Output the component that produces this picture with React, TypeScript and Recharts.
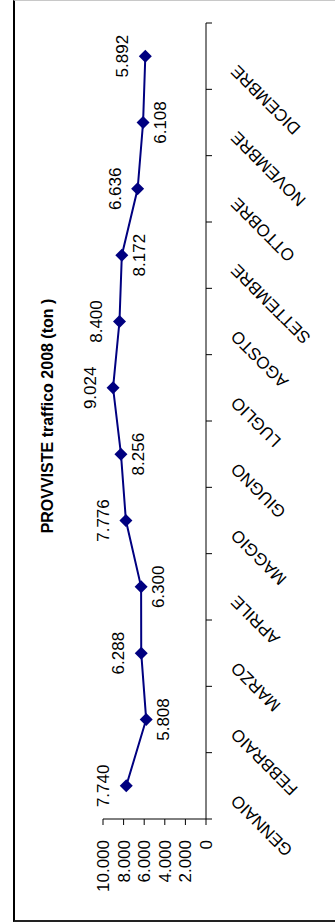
import React from 'react';
import { LineChart, Line, XAxis, YAxis, LabelList } from 'recharts';

const months = [
  'GENNAIO', 'FEBBRAIO', 'MARZO', 'APRILE', 'MAGGIO', 'GIUGNO',
  'LUGLIO', 'AGOSTO', 'SETTEMBRE', 'OTTOBRE', 'NOVEMBRE', 'DICEMBRE',
];
const tonnes = [7740, 5808, 6288, 6300, 7776, 8256, 9024, 8400, 8172, 6636, 6108, 5892];
const valueTicks = [0, 2000, 4000, 6000, 8000, 10000];

// which value labels sit above the point (in the unrotated chart)
const labelAbove = [true, false, true, false, true, false, true, true, false, true, false, true];

// the chart is drawn landscape, then turned 90deg counter-clockwise
const W = 924;
const H = 335;
const PLOT_LEFT = 105;
const PLOT_RIGHT = 901;
const PLOT_TOP = 103;
const PLOT_BOTTOM = 206;
const NAVY = '#000080';
const FONT = '"Liberation Sans", Arial, sans-serif';

const fmt = (v: number) =>
  v >= 1000 ? `${Math.floor(v / 1000)}.${String(v % 1000).padStart(3, '0')}` : String(v);

const data = months.map((month, i) => ({ month, tonnes: tonnes[i] }));

const MonthTick = (props: any) => {
  const { x, payload } = props;
  const idx = months.indexOf(payload.value);
  const step = (PLOT_RIGHT - PLOT_LEFT) / months.length;
  return (
    <g>
      <line x1={x - step / 2} x2={x - step / 2} y1={PLOT_BOTTOM} y2={PLOT_BOTTOM + 6} stroke="#000" />
      {idx === months.length - 1 && (
        <line x1={x + step / 2} x2={x + step / 2} y1={PLOT_BOTTOM} y2={PLOT_BOTTOM + 6} stroke="#000" />
      )}
      <text
        transform={`translate(${x - 8},${PLOT_BOTTOM + 32}) rotate(-45)`}
        textAnchor="end"
        fontSize={17}
        fill="#000"
      >
        {payload.value}
      </text>
    </g>
  );
};

const Diamond = (props: any) => {
  const { cx, cy, index } = props;
  const r = 6.5;
  return (
    <path
      key={`d-${index}`}
      d={`M${cx},${cy - r}L${cx + r},${cy}L${cx},${cy + r}L${cx - r},${cy}Z`}
      fill={NAVY}
    />
  );
};

const ValueLabel = (props: any) => {
  const { x, y, value } = props;
  const idx = props.index ?? tonnes.indexOf(value);
  const above = labelAbove[idx];
  return (
    <text x={x} y={above ? y - 17 : y + 23} textAnchor="middle" fontSize={17} fill="#000">
      {fmt(value)}
    </text>
  );
};

export default function App() {
  return (
    <div style={{ position: 'absolute', left: 0, top: 0, width: 335, height: 924, background: '#fff', fontFamily: FONT, overflow: 'hidden' }}>
      <div
        style={{
          position: 'absolute',
          left: 13,
          top: 0,
          width: 322,
          height: 922,
          boxSizing: 'border-box',
          borderLeft: '2px solid #000',
          borderBottom: '2px solid #222',
          borderTop: '1px solid #c8c8c8',
        }}
      />
      <div
        style={{
          position: 'absolute',
          left: 0,
          top: 0,
          width: W,
          height: H,
          transformOrigin: '0 0',
          transform: `translateY(${W}px) rotate(-90deg)`,
        }}
      >
        <LineChart
          width={W}
          height={H}
          data={data}
          margin={{ top: PLOT_TOP, right: W - PLOT_RIGHT, left: 25, bottom: H - PLOT_BOTTOM - 100 }}
        >
          <XAxis
            dataKey="month"
            scale="band"
            interval={0}
            height={100}
            tickLine={false}
            tickSize={0}
            tickMargin={0}
            axisLine={{ stroke: '#000' }}
            tick={<MonthTick />}
          />
          <YAxis
            type="number"
            width={80}
            domain={[0, 10000]}
            ticks={valueTicks}
            interval={0}
            tickFormatter={fmt}
            tickSize={6}
            tickMargin={15}
            axisLine={{ stroke: '#000' }}
            tickLine={{ stroke: '#000' }}
            tick={{ fontSize: 17, fill: '#000' }}
          />
          <Line
            type="linear"
            dataKey="tonnes"
            stroke={NAVY}
            strokeWidth={2}
            dot={<Diamond />}
            activeDot={false}
            isAnimationActive={false}
          >
            <LabelList dataKey="tonnes" content={<ValueLabel />} />
          </Line>
        </LineChart>
        <svg width={W} height={H} style={{ position: 'absolute', left: 0, top: 0, pointerEvents: 'none' }}>
          <text x={508} y={53} textAnchor="middle" fontSize={16} fontWeight="bold" fill="#000">
            PROVVISTE traffico 2008 (ton )
          </text>
        </svg>
      </div>
    </div>
  );
}
